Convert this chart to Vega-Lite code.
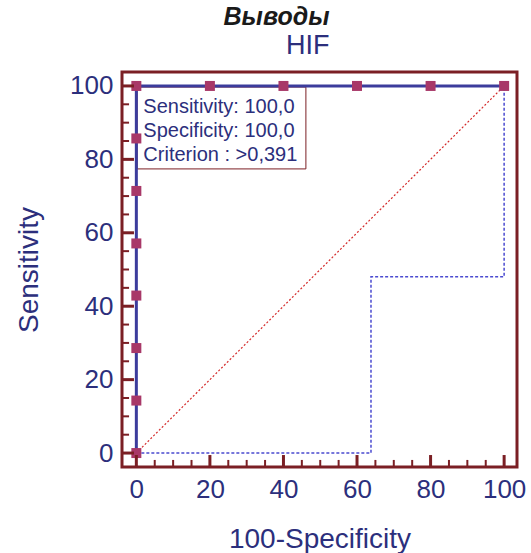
{
  "$schema": "https://vega.github.io/schema/vega-lite/v6.json",
  "width": 395,
  "height": 395,
  "autosize": "none",
  "padding": {"left": 122, "top": 72, "right": 14, "bottom": 86},
  "background": "white",
  "config": {
    "view": {"stroke": "#7b1f24", "strokeWidth": 3},
    "font": "Liberation Sans"
  },
  "title": {
    "text": "Выводы",
    "subtitle": "HIF",
    "font": "Liberation Sans",
    "fontSize": 25,
    "fontStyle": "italic",
    "fontWeight": "bold",
    "color": "#1a1a1a",
    "subtitleFont": "Liberation Sans",
    "subtitleFontSize": 27,
    "subtitleColor": "#2c2f7c",
    "subtitlePadding": 3,
    "anchor": "middle",
    "align": "right",
    "dx": 10,
    "offset": 13
  },
  "datasets": {
    "roc": [
      {"i": 0, "fpr": 0, "sens": 0},
      {"i": 1, "fpr": 0, "sens": 14.3},
      {"i": 2, "fpr": 0, "sens": 28.6},
      {"i": 3, "fpr": 0, "sens": 42.9},
      {"i": 4, "fpr": 0, "sens": 57.1},
      {"i": 5, "fpr": 0, "sens": 71.4},
      {"i": 6, "fpr": 0, "sens": 85.7},
      {"i": 7, "fpr": 0, "sens": 100},
      {"i": 8, "fpr": 20, "sens": 100},
      {"i": 9, "fpr": 40, "sens": 100},
      {"i": 10, "fpr": 60, "sens": 100},
      {"i": 11, "fpr": 80, "sens": 100},
      {"i": 12, "fpr": 100, "sens": 100}
    ],
    "diag": [
      {"fpr": 0, "sens": 0},
      {"fpr": 100, "sens": 100}
    ],
    "lower": [
      {"i": 0, "fpr": 0, "sens": 0},
      {"i": 1, "fpr": 63.8, "sens": 0},
      {"i": 2, "fpr": 63.8, "sens": 48},
      {"i": 3, "fpr": 100, "sens": 48},
      {"i": 4, "fpr": 100, "sens": 100}
    ],
    "box": [
      {"x1": 0.2, "x2": 46.1, "y1": 77.4, "y2": 99.7}
    ],
    "notes": [
      {"fpr": 1.9, "sens": 92.6, "label": "Sensitivity: 100,0"},
      {"fpr": 1.9, "sens": 86.1, "label": "Specificity: 100,0"},
      {"fpr": 1.9, "sens": 79.6, "label": "Criterion : >0,391"}
    ],
    "majorTicks": [
      {"v": 0, "end": 0}, {"v": 0, "end": 1},
      {"v": 20, "end": 0}, {"v": 20, "end": 1},
      {"v": 40, "end": 0}, {"v": 40, "end": 1},
      {"v": 60, "end": 0}, {"v": 60, "end": 1},
      {"v": 80, "end": 0}, {"v": 80, "end": 1},
      {"v": 100, "end": 0}, {"v": 100, "end": 1}
    ],
    "minorTicks": [
      {"v": 5, "end": 0}, {"v": 5, "end": 1},
      {"v": 10, "end": 0}, {"v": 10, "end": 1},
      {"v": 15, "end": 0}, {"v": 15, "end": 1},
      {"v": 25, "end": 0}, {"v": 25, "end": 1},
      {"v": 30, "end": 0}, {"v": 30, "end": 1},
      {"v": 35, "end": 0}, {"v": 35, "end": 1},
      {"v": 45, "end": 0}, {"v": 45, "end": 1},
      {"v": 50, "end": 0}, {"v": 50, "end": 1},
      {"v": 55, "end": 0}, {"v": 55, "end": 1},
      {"v": 65, "end": 0}, {"v": 65, "end": 1},
      {"v": 70, "end": 0}, {"v": 70, "end": 1},
      {"v": 75, "end": 0}, {"v": 75, "end": 1},
      {"v": 85, "end": 0}, {"v": 85, "end": 1},
      {"v": 90, "end": 0}, {"v": 90, "end": 1},
      {"v": 95, "end": 0}, {"v": 95, "end": 1}
    ]
  },
  "resolve": {"scale": {"x": "independent", "y": "independent"}, "axis": {"x": "independent", "y": "independent"}},
  "layer": [
    {
      "layer": [
        {
          "data": {"name": "diag"},
          "mark": {"type": "line", "color": "#d42a2a", "strokeWidth": 1.2, "strokeDash": [2, 2]},
          "encoding": {
            "x": {
              "field": "fpr", "type": "quantitative",
              "scale": {"domain": [-3.9, 103.5], "nice": false, "zero": false},
              "axis": {
                "orient": "bottom",
                "values": [0, 20, 40, 60, 80, 100],
                "grid": false,
                "domain": false,
                "ticks": false,
                "tickSize": 0,
                "labelFont": "Liberation Sans", "labelFontSize": 26, "labelColor": "#2c2f7c",
                "labelPadding": 9,
                "title": "100-Specificity",
                "titleFont": "Liberation Sans", "titleFontSize": 28, "titleFontWeight": "normal", "titleColor": "#2c2f7c",
                "titlePadding": 23
              }
            },
            "y": {
              "field": "sens", "type": "quantitative",
              "scale": {"domain": [-3.8, 103.8], "nice": false, "zero": false},
              "axis": {
                "orient": "left",
                "values": [0, 20, 40, 60, 80, 100],
                "grid": false,
                "domain": false,
                "ticks": false,
                "tickSize": 0,
                "labelFont": "Liberation Sans", "labelFontSize": 26, "labelColor": "#2c2f7c",
                "labelPadding": 9,
                "title": "Sensitivity",
                "titleFont": "Liberation Sans", "titleFontSize": 28, "titleFontWeight": "normal", "titleColor": "#2c2f7c",
                "titlePadding": 26
              }
            }
          }
        },
        {
          "data": {"name": "lower"},
          "mark": {"type": "line", "color": "#4a4ad0", "strokeWidth": 1.5, "strokeDash": [3, 2]},
          "encoding": {
            "x": {"field": "fpr", "type": "quantitative"},
            "y": {"field": "sens", "type": "quantitative"},
            "order": {"field": "i"}
          }
        },
        {
          "data": {"name": "box"},
          "mark": {"type": "rect", "fill": "white", "stroke": "#7b1f24", "strokeWidth": 1},
          "encoding": {
            "x": {"field": "x1", "type": "quantitative"},
            "x2": {"field": "x2"},
            "y": {"field": "y1", "type": "quantitative"},
            "y2": {"field": "y2"}
          }
        },
        {
          "data": {"name": "roc"},
          "mark": {"type": "line", "color": "#3c3c9c", "strokeWidth": 3},
          "encoding": {
            "x": {"field": "fpr", "type": "quantitative"},
            "y": {"field": "sens", "type": "quantitative"},
            "order": {"field": "i"}
          }
        },
        {
          "data": {"name": "roc"},
          "mark": {"type": "square", "color": "#a83868", "opacity": 1, "size": 100},
          "encoding": {
            "x": {"field": "fpr", "type": "quantitative"},
            "y": {"field": "sens", "type": "quantitative"}
          }
        },
        {
          "data": {"name": "notes"},
          "mark": {"type": "text", "align": "left", "baseline": "alphabetic", "font": "Liberation Sans", "fontSize": 20, "color": "#2c2f7c"},
          "encoding": {
            "x": {"field": "fpr", "type": "quantitative"},
            "y": {"field": "sens", "type": "quantitative"},
            "text": {"field": "label"}
          }
        }
      ]
    },
    {
      "data": {"name": "majorTicks"},
      "mark": {"type": "line", "color": "#7b1f24", "strokeWidth": 3, "strokeCap": "butt"},
      "encoding": {
        "x": {"field": "v", "type": "quantitative", "scale": {"domain": [-3.9, 103.5], "nice": false, "zero": false}, "axis": null},
        "y": {"field": "end", "type": "quantitative", "scale": {"domain": [0, 33], "nice": false, "zero": false}, "axis": null},
        "detail": {"field": "v"}
      }
    },
    {
      "data": {"name": "minorTicks"},
      "mark": {"type": "line", "color": "#7b1f24", "strokeWidth": 2, "strokeCap": "butt"},
      "encoding": {
        "x": {"field": "v", "type": "quantitative", "scale": {"domain": [-3.9, 103.5], "nice": false, "zero": false}, "axis": null},
        "y": {"field": "end", "type": "quantitative", "scale": {"domain": [0, 56], "nice": false, "zero": false}, "axis": null},
        "detail": {"field": "v"}
      }
    },
    {
      "data": {"name": "majorTicks"},
      "mark": {"type": "line", "color": "#7b1f24", "strokeWidth": 3, "strokeCap": "butt"},
      "encoding": {
        "y": {"field": "v", "type": "quantitative", "scale": {"domain": [-3.8, 103.8], "nice": false, "zero": false}, "axis": null},
        "x": {"field": "end", "type": "quantitative", "scale": {"domain": [0, 33], "nice": false, "zero": false}, "axis": null},
        "detail": {"field": "v"}
      }
    },
    {
      "data": {"name": "minorTicks"},
      "mark": {"type": "line", "color": "#7b1f24", "strokeWidth": 2, "strokeCap": "butt"},
      "encoding": {
        "y": {"field": "v", "type": "quantitative", "scale": {"domain": [-3.8, 103.8], "nice": false, "zero": false}, "axis": null},
        "x": {"field": "end", "type": "quantitative", "scale": {"domain": [0, 56], "nice": false, "zero": false}, "axis": null},
        "detail": {"field": "v"}
      }
    }
  ]
}
